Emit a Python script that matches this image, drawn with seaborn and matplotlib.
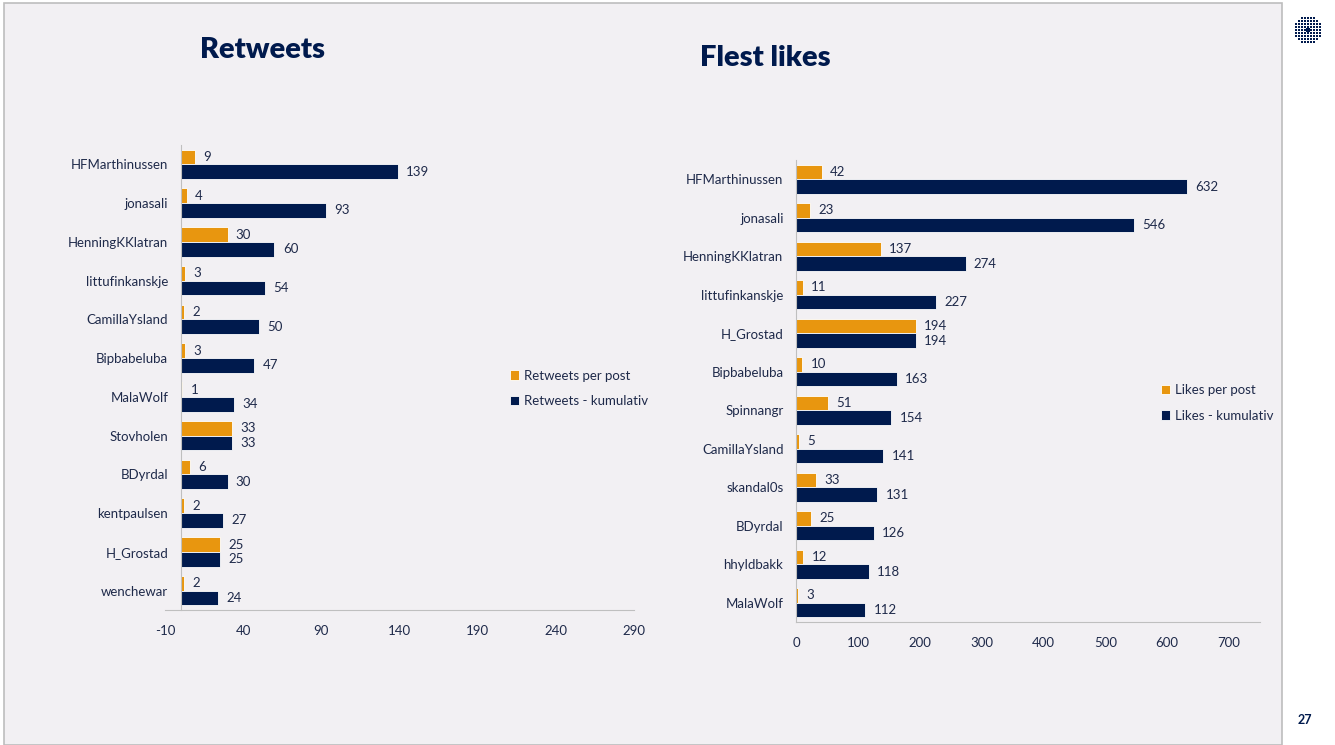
import matplotlib
matplotlib.use("Agg")
import matplotlib.pyplot as plt
import matplotlib.patches as mpatches
import seaborn as sns
import numpy as np
import pandas as pd

# Retweets data
rt_names = ['HFMarthinussen', 'jonasali', 'HenningKKlatran', 'littufinkanskje', 'CamillaYsland',
            'Bipbabeluba', 'MalaWolf', 'Stovholen', 'BDyrdal', 'kentpaulsen', 'H_Grostad', 'wenchewar']
rt_per_post = [9, 4, 30, 3, 2, 3, 1, 33, 6, 2, 25, 2]
rt_total = [139, 93, 60, 54, 50, 47, 34, 33, 30, 27, 25, 24]

# Likes data
lk_names = ['HFMarthinussen', 'jonasali', 'HenningKKlatran', 'littufinkanskje', 'H_Grostad',
            'Bipbabeluba', 'Spinnangr', 'CamillaYsland', 'skandal0s', 'BDyrdal', 'hhyldbakk', 'MalaWolf']
lk_per_post = [42, 23, 137, 11, 194, 10, 51, 5, 33, 25, 12, 3]
lk_total = [632, 546, 274, 227, 194, 163, 154, 141, 131, 126, 118, 112]

rt_ticks = [-10, 40, 90, 140, 190, 240, 290]
lk_ticks = [0, 100, 200, 300, 400, 500, 600, 700]

ORANGE = '#E8960F'
NAVY = '#001A4D'
TEXT = '#1F2A4A'
SLIDE = '#F2F0F3'
SPINE = '#BFBFBF'

sns.set_style("white")
plt.rcParams['font.family'] = ['Lato', 'DejaVu Sans']
plt.rcParams['axes.unicode_minus'] = False

fig = plt.figure(figsize=(13.35, 7.45), dpi=100, facecolor='white')

# slide background
fig.patches.append(mpatches.Rectangle((4 / 1335, 0), 1278 / 1335, 742 / 745, transform=fig.transFigure,
                                      facecolor=SLIDE, edgecolor='#BDBDBD', linewidth=1.2, zorder=-5))


def draw(ax, names, per_post, total, lab_post, lab_total, xlim, ticks, legend_xy):
    df = pd.DataFrame({
        'name': names * 2,
        'value': per_post + total,
        'series': [lab_post] * len(names) + [lab_total] * len(names),
    })
    sns.barplot(data=df, y='name', x='value', hue='series', orient='h',
                palette=[ORANGE, NAVY], width=0.76, edgecolor='white', linewidth=0.6,
                saturation=1, ax=ax)
    for c in ax.containers:
        ax.bar_label(c, padding=6, fontsize=9.5, color=TEXT)
    ax.set_facecolor('none')
    ax.set_xlim(*xlim)
    ax.set_ylim(len(names) - 0.5, -0.5)
    ax.set_xticks(ticks)
    ax.set_xlabel('')
    ax.set_ylabel('')
    for s in ['top', 'right']:
        ax.spines[s].set_visible(False)
    ax.spines['left'].set_position(('data', 0))
    ax.spines['left'].set_color(SPINE)
    ax.spines['bottom'].set_color(SPINE)
    ax.set_yticks(np.arange(len(names) + 1) - 0.5, minor=True)
    ax.tick_params(axis='y', which='major', length=0, pad=9, labelsize=9.5, labelcolor=TEXT)
    ax.tick_params(axis='y', which='minor', length=5, color=SPINE, direction='out')
    ax.tick_params(axis='x', length=5, color=SPINE, labelsize=9.5, labelcolor=TEXT, pad=6)
    handles, labels = ax.get_legend_handles_labels()
    ax.legend(handles, labels, loc='center left', bbox_to_anchor=legend_xy, frameon=False,
              fontsize=9.5, handlelength=0.7, handleheight=0.7, handletextpad=0.4,
              labelspacing=1.0, labelcolor=TEXT)


ax1 = fig.add_axes([165 / 1335, 1 - 610 / 745, 469 / 1335, 465 / 745])
draw(ax1, rt_names, rt_per_post, rt_total, 'Retweets per post', 'Retweets - kumulativ',
     (-10, 290), rt_ticks, (0.71, 0.477))

ax2 = fig.add_axes([796 / 1335, 1 - 622 / 745, 464 / 1335, 462 / 745])
draw(ax2, lk_names, lk_per_post, lk_total, 'Likes per post', 'Likes - kumulativ',
     (0, 750), lk_ticks, (0.76, 0.474))

fig.text(200 / 1335, 1 - 50 / 745, 'Retweets', fontsize=21, fontweight='heavy', color=NAVY,
         family=['Lato', 'DejaVu Sans'], va='center')
fig.text(700 / 1335, 1 - 58 / 745, 'Flest likes', fontsize=21, fontweight='heavy', color=NAVY,
         family=['Lato', 'DejaVu Sans'], va='center')
fig.text(1305 / 1335, 1 - 720 / 745, '27', fontsize=9, fontweight='bold', color=NAVY, ha='center', va='center')

# logo: dot grid
lax = fig.add_axes([1293 / 1335, 1 - 45 / 745, 30 / 1335, 30 / 745])
gx, gy = np.meshgrid(np.arange(-4, 5), np.arange(-4, 5))
r = np.sqrt(gx ** 2 + gy ** 2)
mask = r <= 4.6
lax.scatter(gx[mask], gy[mask], s=(5.2 - r[mask]) * 0.9, color=NAVY, marker='s', linewidths=0)
lax.set_xlim(-5, 5)
lax.set_ylim(-5, 5)
lax.axis('off')

fig.savefig('out.png', dpi=100, facecolor='white')
